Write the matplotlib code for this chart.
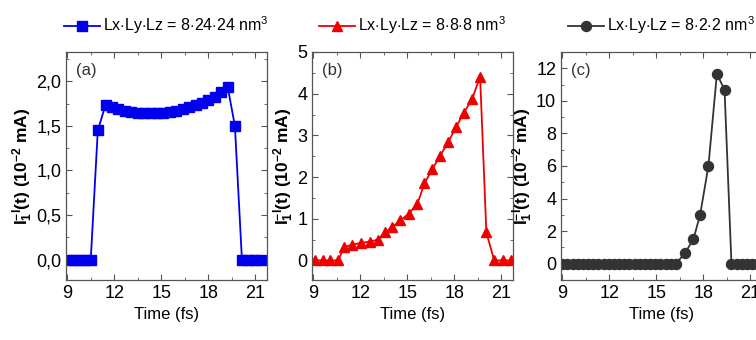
"""
Transient current I_1^{-l}(t) for three sample geometries (Lx·Ly·Lz).
Three panels side by side, each with its own legend on top.
"""

import matplotlib
matplotlib.use("Agg")
import matplotlib.pyplot as plt
from matplotlib.ticker import MultipleLocator, FuncFormatter

plt.rcParams["font.family"] = ["Liberation Sans", "DejaVu Sans"]
plt.rcParams["mathtext.fontset"] = "custom"
plt.rcParams["mathtext.rm"] = "Liberation Sans"
plt.rcParams["mathtext.it"] = "Liberation Sans"
plt.rcParams["mathtext.bf"] = "Liberation Sans:bold"

# (a) 8x24x24 nm^3
time_a = [9.10, 9.45, 9.80, 10.15, 10.50, 10.95,
          11.45, 11.86, 12.27, 12.68, 13.09, 13.50, 13.91, 14.32, 14.73, 15.14,
          15.55, 15.96, 16.37, 16.78, 17.19, 17.60, 18.01, 18.42, 18.83, 19.24,
          19.70, 20.15, 20.55, 20.95, 21.35]
curr_a = [0.0, 0.0, 0.0, 0.0, 0.0, 1.45,
          1.74, 1.71, 1.69, 1.67, 1.66, 1.65, 1.645, 1.64, 1.64, 1.645,
          1.66, 1.67, 1.69, 1.71, 1.73, 1.76, 1.79, 1.83, 1.88, 1.94,
          1.50, 0.0, 0.0, 0.0, 0.0]

# (b) 8x8x8 nm^3
time_b = [9.10, 9.60, 10.10, 10.60, 10.96, 11.50, 12.05, 12.60, 13.14, 13.60,
          14.05, 14.56, 15.10, 15.65, 16.10, 16.60, 17.10, 17.60, 18.10, 18.60,
          19.15, 19.65, 20.05, 20.55, 21.10, 21.60]
curr_b = [0.0, 0.0, 0.0, 0.0, 0.32, 0.38, 0.42, 0.45, 0.50, 0.68,
          0.80, 0.96, 1.12, 1.36, 1.85, 2.19, 2.51, 2.83, 3.19, 3.53,
          3.88, 4.41, 0.67, 0.0, 0.0, 0.0]

# (c) 8x2x2 nm^3
time_c = [9.00, 9.33, 9.66, 9.99, 10.32, 10.65, 10.98, 11.31, 11.64, 11.97,
          12.30, 12.63, 12.96, 13.29, 13.62, 13.95, 14.28, 14.61, 14.94, 15.27,
          15.60, 15.93, 16.26, 16.83, 17.37, 17.80, 18.33, 18.87, 19.36, 19.80,
          20.13, 20.46, 20.79, 21.12, 21.45]
curr_c = [0.0, 0.0, 0.0, 0.0, 0.0, 0.0, 0.0, 0.0, 0.0, 0.0,
          0.0, 0.0, 0.0, 0.0, 0.0, 0.0, 0.0, 0.0, 0.0, 0.0,
          0.0, 0.0, 0.0, 0.65, 1.50, 3.00, 6.00, 11.66, 10.67, 0.0,
          0.0, 0.0, 0.0, 0.0, 0.0]

legend_labels = [r"Lx$\cdot$Ly$\cdot$Lz = 8$\cdot$24$\cdot$24 nm$^3$",
                 r"Lx$\cdot$Ly$\cdot$Lz = 8$\cdot$8$\cdot$8 nm$^3$",
                 r"Lx$\cdot$Ly$\cdot$Lz = 8$\cdot$2$\cdot$2 nm$^3$"]
panel_tags = ["(a)", "(b)", "(c)"]

ylabel = r"$\mathbf{I_1^{-l}(t)\ (10^{-2}\ mA)}$"

fig = plt.figure(figsize=(7.56, 3.40), dpi=100)

# axes rectangles in figure fractions; the last panel runs past the right edge
W, H = 756.0, 340.0
rects = [(66 / W, 60 / H, 201 / W, 228 / H),
         (312 / W, 60 / H, 201 / W, 228 / H),
         (561 / W, 60 / H, 201 / W, 228 / H)]

series = [(time_a, curr_a, "#0000ee", "s", 6.8),
          (time_b, curr_b, "#ee0000", "^", 7.5),
          (time_c, curr_c, "#333333", "o", 7.2)]

ylims = [(-0.23, 2.33), (-0.47, 5.0), (-1.0, 13.0)]
ymajor = [0.5, 1, 2]

for i, (rect, (t, y, col, mk, ms)) in enumerate(zip(rects, series)):
    ax = fig.add_axes(rect)
    ax.plot(t, y, color=col, marker=mk, markersize=ms, linewidth=1.3,
            label=legend_labels[i])
    ax.set_xlim(8.92, 21.75)
    ax.set_ylim(*ylims[i])
    ax.xaxis.set_major_locator(MultipleLocator(3))
    ax.xaxis.set_minor_locator(MultipleLocator(1.5))
    ax.yaxis.set_major_locator(MultipleLocator(ymajor[i]))
    ax.yaxis.set_minor_locator(MultipleLocator(ymajor[i] / 2))
    if i == 0:
        ax.yaxis.set_major_formatter(
            FuncFormatter(lambda v, p: f"{v:.1f}".replace(".", ",")))
    ax.tick_params(which="both", direction="in", top=True, right=True,
                   labelsize=13, color="#555555")
    ax.tick_params(which="major", length=4, width=0.8)
    ax.tick_params(which="minor", length=2, width=0.6)
    for sp in ax.spines.values():
        sp.set_color("#555555")
        sp.set_linewidth(0.9)
    ax.set_xlabel("Time (fs)", fontsize=12, labelpad=4)
    ax.set_ylabel(ylabel, fontsize=12.5, labelpad=1)
    ax.text(0.05, 0.95, panel_tags[i], transform=ax.transAxes,
            fontsize=12, va="top", ha="left", color="#333333")
    ax.legend(loc="lower center", bbox_to_anchor=(0.5, 1.04), frameon=False,
              fontsize=11.5, handlelength=2.2, handletextpad=0.2,
              borderaxespad=0)

fig.savefig("out.png", dpi=100)
